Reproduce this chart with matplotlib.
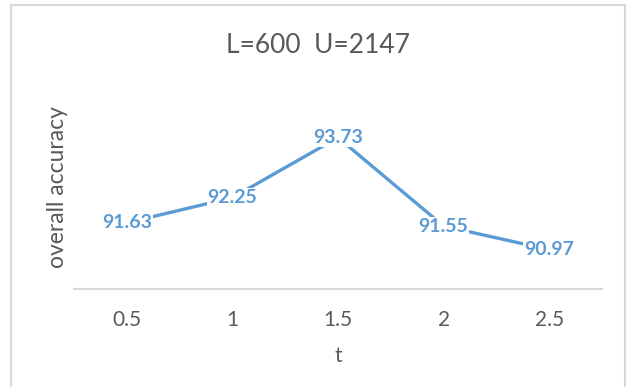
import matplotlib as mpl
mpl.use('Agg')
import matplotlib.pyplot as plt
from matplotlib.lines import Line2D

mpl.rcParams['font.family'] = ['Lato', 'DejaVu Sans']

# data
t_labels = ['0.5', '1', '1.5', '2', '2.5']
accuracy = [91.63, 92.25, 93.73, 91.55, 90.97]

line_color = '#5B9BD5'
text_color = '#595959'
grid_color = '#D9D9D9'

W, H = 627, 387
fig = plt.figure(figsize=(W / 100, H / 100), dpi=100)

# chart border (Excel style), bottom edge falls outside the image
for xs, ys in [((11, 11), (5, H + 5)), ((11, 625), (5, 5)), ((625, 625), (5, H + 5))]:
    fig.add_artist(Line2D([x / W for x in xs], [1 - y / H for y in ys],
                          color=grid_color, lw=1.5, transform=fig.transFigure))

ax = fig.add_axes([74 / W, 1 - 289 / H, (602 - 74) / W, (289 - 86) / H])
x = list(range(len(t_labels)))
ax.plot(x, accuracy, color=line_color, lw=2.4, solid_capstyle='round', zorder=2)

for xi, yi in zip(x, accuracy):
    ax.text(xi, yi, '%.2f' % yi, ha='center', va='center', fontsize=14,
            fontweight='bold', color=line_color, zorder=3,
            bbox=dict(boxstyle='square,pad=0.05', fc='white', ec='none'))

ax.set_xlim(-0.5, len(t_labels) - 0.5)
ax.set_ylim(90, 95)
ax.set_xticks(x)
ax.set_xticklabels(t_labels, fontsize=15, color=text_color)
ax.set_yticks([])
ax.tick_params(axis='x', length=0, pad=15)
for s in ['top', 'right', 'left']:
    ax.spines[s].set_visible(False)
ax.spines['bottom'].set_color(grid_color)
ax.spines['bottom'].set_linewidth(1.5)

ax.set_xlabel('t', fontsize=15, color=text_color, labelpad=12)
ax.set_ylabel('overall accuracy', fontsize=16.5, color=text_color, labelpad=4)

fig.text(318 / W, 1 - 53 / H, 'L=600  U=2147', ha='center', va='baseline',
         fontsize=19, color=text_color)

fig.savefig('out.png', dpi=100)
